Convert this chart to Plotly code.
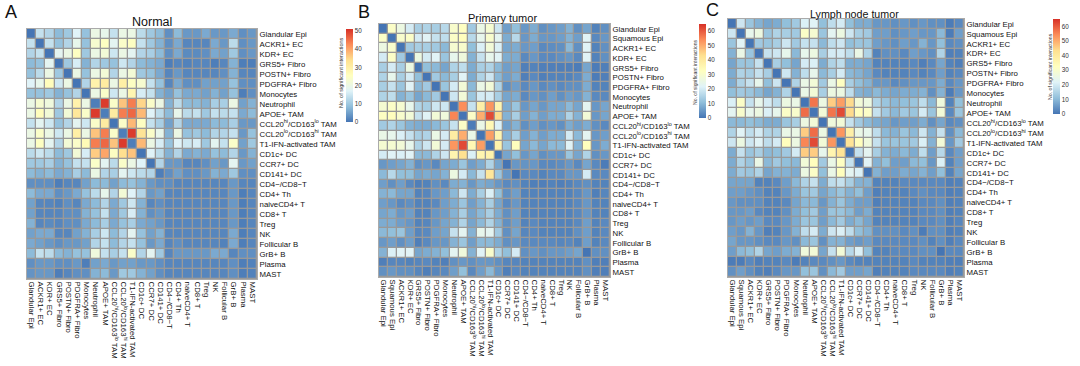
import plotly.graph_objects as go

W, H = 1080, 366
COLORS = ["#4575B4", "#91BFDB", "#E0F3F8", "#FFFFBF", "#FEE090", "#FC8D59", "#D73027"]
HI = "CCL20<sup>hi</sup>/CD163<sup>lo</sup> TAM"
LO = "CCL20<sup>lo</sup>/CD163<sup>hi</sup> TAM"
labels_a = ["Glandular Epi", "ACKR1+ EC", "KDR+ EC", "GRS5+ Fibro", "POSTN+ Fibro", "PDGFRA+ Fibro", "Monocytes",
            "Neutrophil", "APOE+ TAM", HI, LO, "T1-IFN-activated TAM", "CD1c+ DC", "CCR7+ DC", "CD141+ DC",
            "CD4−/CD8−T", "CD4+ Th", "naiveCD4+ T", "CD8+ T", "Treg", "NK", "Follicular B", "GrB+ B", "Plasma", "MAST"]
labels_bc = labels_a[:1] + ["Squamous Epi"] + labels_a[1:]

normal = [
[0,14,12,8,10,17,9,20,19,14,20,20,13,10,8,3,8,4,4,6,4,4,6,3,4],
[14,0,14,9,12,19,9,23,25,18,24,25,14,10,7,3,6,2,2,2,6,4,13,3,4],
[12,14,0,18,20,25,10,20,22,15,20,18,12,11,8,3,6,2.5,2.5,3,6,5,10,3,4],
[8,9,18,0,10,16,7,12,10,9,15,12,8,7,6,1,2,1.5,2,2,1,2,7,1,1],
[9,13,20,10,0,20,9,20,22,12,20,22,10,9,6,2,4,2,2,2,2,3,7,2,2],
[17,19,26,15,20,0,12,29,31,20,30,25,23,14,9,2,6,3,3,5,5,5,9,3,3],
[9,9,10,7,9,12,0,20,24,15,20,28,16,14,7,5,9,6,6,5,7,5,9,1,3],
[20,23,21,12,20,29,20,1,50,24,37,44,35,24,20,7,13,8,8,7,11,11,20,5,7],
[20,26,22,10,22,32,24,50,1,31,44,46,38,17,13,8,19,13,14,10,14,13,14,6,8],
[14,18,15,9,12,18,15,24,31,0,24,38,25,14,11,5,12,6,6,6,8,8,11,4,4],
[20,24,20,15,20,30,20,37,44,24,1,50,33,24,19,7,20,9,10,8,12,12,14,4,9],
[20,25,18,12,22,24,27,44,46,37,50,1,38,20,16,9,17,15,16,10,18,14,24,5,10],
[13,15,13,8,10,22,16,36,40,25,34,37,0,17,13,7,12,6,7,6,9,8,12,4,7],
[10,10,11,7,9,14,14,24,18,13,24,20,17,0,12,4,4,2,2,3,5,4,18,4,5],
[8,7,8,6,7,11,8,20,12,11,18,15,13,12,1,3,5,3,3,4,7,6,10,3,3],
[3,3,3,1,2,2,5,8,8,5,8,9,7,4,3,3,2,2,2,2,2,2,4,2,2],
[8,6,6,3,4,6,9,13,19,12,22,17,12,4,5,2,2,2,2,2,2,2,4,1,2],
[5,2,2,1.5,3,2,6,8,12,6,10,15,7,2,3,2,2,2,2,2,2,2,4,1,2],
[5,2,2,2,3,3,7,9,14,6,10,16,7,3,4,2,2,2,2,2,2,2,4,1,2],
[7,2,2.5,2,3,3,6,8,11,6,9,11,6,5,4,2,2,2,2,2,2,2,4,1,2],
[5,6,6,2,2,5,7,11,15,8,12,18,9,5,7,2,2,2,2,2,2,2,6,1,2],
[6,5,4,3,4,4,5,12,14,8,12,14,9,4,6,2,3,2,2,2,2,1.5,6,1,2],
[8,14,13,8,7,9,9,21,14,11,14,24,12,18,10,2,4,4,4,4,6,6,2,3,3],
[3,4,4,3,3,4,1,5,6,4,5,5,4,4,3,2,2,2,2,2,2,2,3,1,1.5],
[3.5,4,4,1,2,3,3,7,8,4,10,10,7,5,3,2,2,2,2,2,2,2,3,1,1.5],
]

primary = [
[0,31,26,20,14,15,14,16,30,32,13,25,29,19,6,11,5,8,4,5,6,9,4,7,2,4],
[31,0,30,31,20,22,18,17,31,33,16,24,30,23,8,16,5,8,5,5,6,9,6,22,3,5],
[26,30,0,13,14,14,13,10,29,30,11,21,28,21,7,8,5,6,3,3.5,4,10,4,22,2,4],
[20,31,13,0,26,20,22,12,24,27,9,18,24,22,8,8,3,5,3,3,4,5,3,22,2,4],
[14,20,14,26,0,11,10,7,15,17,8,14,15,10,6,7,1.5,2,1.5,1.5,1.5,1.5,1,7,1,1.5],
[15,24,14,20,11,0,13,10,14,22,8,15,19,10,6,8,1.5,3,1.5,2,2,2,3,8,1,1.5],
[14,18,12,22,10,13,0,12,20,28,10,25,28,15,4,6,3,5,3,4,3,4,4,8,2,2],
[15,17,9,12,7,10,13,0,19,28,12,20,20,14,7,8,3,5,4,6,4,6,5,9,3,3],
[29,31,29,24,15,14,19,19,0,54,18,38,53,36,8,12,5,7,5,7,7,10,7,23,5,7],
[32,33,30,28,18,22,28,27,55,0,31,50,62,44,9,14,6,9,6,8,8,15,9,28,5,7],
[13,15,12,9,8,8,10,12,18,31,1,25,35,21,6,9,4,6,4,5,4,8,6,8,4,3],
[25,24,21,18,14,15,25,20,39,50,25,0,52,36,9,14,6,9,6,8,8,20,10,23,5,6],
[29,29,28,24,15,19,28,20,53,62,35,52,0,37,12,33,7,10,7,10,10,22,9,33,5,8],
[20,22,21,22,10,10,15,19,36,43,21,36,37,0,7,11,5,7,4,5,5,12,7,15,4,5],
[5,6,7,9,4,5,3,7,8,12,6,8,15,7,0,5,4.5,5,3,3,3.5,5,3,7,3,1],
[10,16,11,11,7,8,7,9,26,20,10,18,41,12,5,0,3,3,2,3,3,5,5,20,3,3],
[6,4,6,3,1.5,2,4,3,8,9,5,8,7,5,3,4,2,1.5,1.5,2,1.5,2,3,4,2,2],
[9,10,7,7,2,2.5,5,6,10,19,8,14,21,11,4,6,2,2,2,2,2,2,3,5,1.5,2.5],
[6,5,3,4,2,2,3,6,8,12,6,9,14,7,3,5,2,2,2,2,2,2,3,5,2,2],
[7,8,5,6,2,2,5,6,9,14,7,10,14,8,4,6,2,2,2,2,2,2,3,5,2,2],
[8,8,6,5,2,2.5,5,7,9,15,7,10,15,9,4,6,2,3,2,2,2,2,3,6,2,3],
[10,11,12,6,2.5,3,6,7,18,23,9,24,23,13,4,7,2.5,3,2,2,2,2,4,6,2,3],
[5,6,4,6,1.5,3,5,5,9,12,6,10,10,8,4,5,3,3,3,3,2.5,3,2,6,2,3],
[9,21,22,22,7,8,9,11,23,27,9,22,30,15,11,20,4,5,4,5,5,6,7,0,4,4],
[1.5,2.5,2.5,2,2.5,3,2,1.5,4,5,4,5,5,4,2.5,2.5,2,2,2,2,2,2,2,4,1.5,1.5],
[4,5,4,4,2.5,1.5,2.5,3,6,11,3,6,10,5,1.5,3,2,2,2,2,2,2,2,4,1.5,1.5],
]

lymph = [
[0,19,12,9,7,8,11,13,21,22,11,17,20,11,8,8,5,5,4,5,4,5,4,4,1,3],
[19,0,24,26,12,15,14,13,31,29,12,23,26,19,14,13,6,6,4,5,6,5,5,10,1,6],
[12,22,0,13,12,14,19,13,18,18,10,17,19,11,12,12,6,5,4,6,5,9,5,11,3,4],
[9,25,12,0,18,19,24,10,24,26,14,20,20,17,25,15,2,4,4,3,6,5,4,15,1.5,2],
[7,12,12,18,0,14,11,7,20,21,8,15,17,8,8,7,2,2,2,2,3,1.5,3,7,2,1.5],
[8,15,14,18,14,0,19,9,17,24,10,14,20,10,9,7,3,2,2,2,3,2,3,6,2,3],
[8,15,18,24,11,19,0,15,25,28,13,25,32,14,11,9,5,5,3,4,5,5,5,8,3,5],
[11,13,12,10,7,9,15,0,25,28,14,26,26,17,9,8,10,8,7,8,8,9,4,9,1,5],
[21,31,18,24,20,17,26,25,0,57,26,46,52,44,28,26,15,12,10,11,12,17,10,27,2,11],
[23,30,24,26,21,24,31,30,58,0,28,57,62,44,33,31,18,13,10,13,12,20,12,28,3,12],
[10,10,11,10,8,8,12,14,26,28,0,27,28,18,13,10,8,7,5,6,6,8,4,7,3,4],
[15,22,17,20,15,15,25,25,46,58,26,0,53,38,25,24,17,10,9,12,10,19,9,18,4,10],
[19,26,19,22,17,20,33,26,55,62,28,53,0,42,33,27,18,12,12,12,13,21,9,28,5,13],
[8,18,12,14,10,11,13,20,46,46,24,36,42,0,18,23,14,9,8,10,8,17,6,16,3,6],
[8,15,12,25,10,13,11,10,28,33,13,25,32,18,0,22,9,11,6,6,10,11,5,21,2,6],
[8,13,12,15,7,9,9,8,26,31,11,25,33,23,21,0,9,6,6,8,7,9,6,11,2,7],
[7,7,7,2,2,3,6,10,15,18,8,17,18,14,9,9,2,2,2,3,3,3,3,3,1.5,2],
[6,6,5,4,2,2,5,8,12,13,7,10,12,9,11,6,1.5,2,2,2,3,4,3,3,1.5,2],
[5,4,4,4,2,2,3,7,10,10,5,9,12,8,6,6,1.5,2,2,2,2,3,3,4,1.5,2],
[5,5,6,3,2,2,4,8,11,13,6,12,12,10,6,8,2,2,2,2,2,3,3,4,1.5,2],
[5,6,5,6,3,3,5,8,12,12,6,10,13,8,10,7,2,2,2,2,2,3,3,4,1.5,2.5],
[6,5,9,5,1.5,2,5,9,17,20,8,19,21,17,11,9,4,4,4,3,4,1,4,4,1.5,2],
[7,5,5,4,3,3,5,4,10,12,4,9,9,6,5,6,3,3,3,3,3,4,2,4,1.5,3],
[6,10,11,15,7,6,8,9,27,28,7,18,28,16,21,11,2,2,3,3,3,4,4,0,3,3],
[1,1,3,1.5,2,2,3,1,2,3,3,4,5,3,2,2,2,2,2,2,3,2,2,2,1.5,1.5],
[4,6,4,2,1.5,3,5,5,11,12,4,10,13,6,6,7,1.5,2,2,2,3,3,3,3,1.5,2],
]

panels = [
    dict(title="Normal", letter="A", lx=11, ly=12, labels=labels_a, z=normal, box=(27, 257, 29, 279), zmax=51,
         ticks=[0, 10, 20, 30, 40, 50], cb=(346, 353, 29, 122), tx=152, ty=22, ts=12.5, nx=341, ny=73, ns=5.5),
    dict(title="Primary tumor", letter="B", lx=364, ly=12, labels=labels_bc, z=primary, box=(379, 610, 24, 277), zmax=65,
         ticks=[0, 10, 20, 30, 40, 50, 60], cb=(699, 706, 24, 118), tx=502, ty=18, ts=11, nx=695, ny=72, ns=5.1),
    dict(title="Lymph node tumor", letter="C", lx=712, ly=10, labels=labels_bc, z=lymph, box=(728, 964, 19, 277), zmax=65,
         ticks=[0, 10, 20, 30, 40, 50, 60], cb=(1053, 1060, 19, 114), tx=854, ty=14, ts=10.7, nx=1050, ny=67, ns=5.2),
]

fig = go.Figure()
annotations = []
layout = {}
FONT = "Liberation Sans, Arial, sans-serif"
GRID = "#999999"
for i, p in enumerate(panels, start=1):
    n = len(p["labels"])
    assert len(p["z"]) == n and all(len(r) == n for r in p["z"])
    x0, x1, y0, y1 = p["box"]
    suf = "" if i == 1 else str(i)
    c0, c1, c2, c3 = p["cb"]
    fig.add_trace(go.Heatmap(
        z=p["z"], x=list(range(n)), y=list(range(n)), xaxis="x" + suf, yaxis="y" + suf,
        zmin=0, zmax=p["zmax"], colorscale=COLORS, xgap=1.3, ygap=1.3, hoverongaps=False,
        colorbar=dict(x=c0 / W, xanchor="left", y=1 - c2 / H, yanchor="top", len=(c3 - c2) / H, lenmode="fraction",
                      thickness=c1 - c0, thicknessmode="pixels", outlinewidth=0, xpad=0, ypad=0,
                      tickvals=p["ticks"], ticks="", tickfont=dict(size=6.3, family=FONT, color="#333")),
    ))
    common = dict(tickmode="array", tickvals=list(range(n)), ticktext=p["labels"], showgrid=False, zeroline=False,
                  ticks="", showline=True, linecolor="#aaaaaa", linewidth=1, mirror=True,
                  tickfont=dict(size=7.8, family=FONT, color="#111"))
    layout["xaxis" + suf] = dict(domain=[x0 / W, x1 / W], range=[-0.5, n - 0.5], anchor="y" + suf, side="bottom",
                                 tickangle=90, **common)
    layout["yaxis" + suf] = dict(domain=[1 - y1 / H, 1 - y0 / H], range=[n - 0.5, -0.5], anchor="x" + suf, side="right",
                                 **common)
    annotations += [
        dict(text=p["title"], x=p["tx"] / W, y=1 - p["ty"] / H, xref="paper", yref="paper", showarrow=False,
             xanchor="center", yanchor="middle", font=dict(size=p["ts"], family=FONT, color="#111")),
        dict(text=p["letter"], x=p["lx"] / W, y=1 - p["ly"] / H, xref="paper", yref="paper", showarrow=False,
             xanchor="center", yanchor="middle", font=dict(size=18, family=FONT, color="#111")),
        dict(text="No. of significant interactions", x=p["nx"] / W, y=1 - p["ny"] / H, xref="paper", yref="paper",
             showarrow=False, textangle=-90, xanchor="center", yanchor="middle",
             font=dict(size=p["ns"], family=FONT, color="#333")),
    ]

fig.update_layout(width=W, height=H, autosize=False, margin=dict(l=0, r=0, t=0, b=0), paper_bgcolor="white",
                  plot_bgcolor=GRID, annotations=annotations, showlegend=False, **layout)
fig.write_html("out.html", config={"displayModeBar": False},
               post_script="document.body.style.margin='0';")
